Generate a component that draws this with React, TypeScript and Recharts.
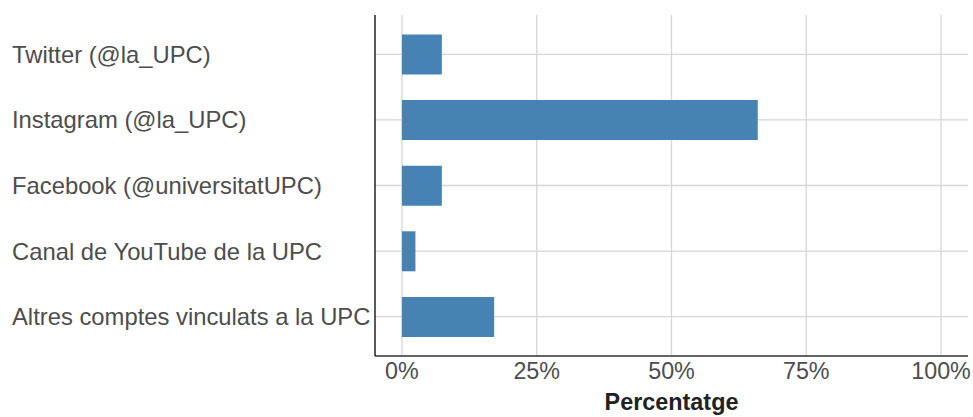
import React from 'react';
import { BarChart, Bar, XAxis, YAxis, CartesianGrid } from 'recharts';

const categories = [
  'Twitter (@la_UPC)',
  'Instagram (@la_UPC)',
  'Facebook (@universitatUPC)',
  'Canal de YouTube de la UPC',
  'Altres comptes vinculats a la UPC',
];
const percentages = [7.4, 66.0, 7.4, 2.5, 17.1];
const xTicks = [0, 25, 50, 75, 100];

const data = categories.map((name, i) => ({ name, value: percentages[i] }));

const FONT = '"Liberation Sans", Arial, sans-serif';

function LeftTick({ y, payload }: any) {
  return (
    <text x={12} y={y} dy="0.36em" textAnchor="start" fill="#4d4d4d" fontSize={23.8} fontFamily={FONT}>
      {payload.value}
    </text>
  );
}

export default function App() {
  return (
    <div style={{ position: 'absolute', left: 0, top: 0, background: '#fff' }}>
      <BarChart
        width={973}
        height={417}
        data={data}
        layout="vertical"
        margin={{ top: 15, right: 5, left: 0, bottom: 0 }}
        barCategoryGap={0}
      >
        <CartesianGrid stroke="#d6d6d6" strokeWidth={1.3} syncWithTicks />
        <XAxis
          type="number"
          domain={[-5, 105]}
          ticks={xTicks}
          allowDataOverflow
          tickFormatter={(v) => `${v}%`}
          tickLine={false}
          tickSize={6}
          tickMargin={0}
          height={61}
          axisLine={{ stroke: '#333333', strokeWidth: 1.3 }}
          tick={{ fill: '#4d4d4d', fontSize: 23.3, fontFamily: FONT }}
          label={{
            value: 'Percentatge',
            position: 'insideBottom',
            offset: 7,
            fill: '#222222',
            fontSize: 23.4,
            fontWeight: 'bold',
            fontFamily: FONT,
          }}
        />
        <YAxis
          type="category"
          dataKey="name"
          width={375}
          tickLine={false}
          padding={{ top: 6.5, bottom: 6.5 }}
          axisLine={{ stroke: '#000000', strokeWidth: 1.3 }}
          tick={<LeftTick />}
          interval={0}
        />
        <Bar dataKey="value" fill="#4682b4" barSize={40} isAnimationActive={false} />
      </BarChart>
    </div>
  );
}
